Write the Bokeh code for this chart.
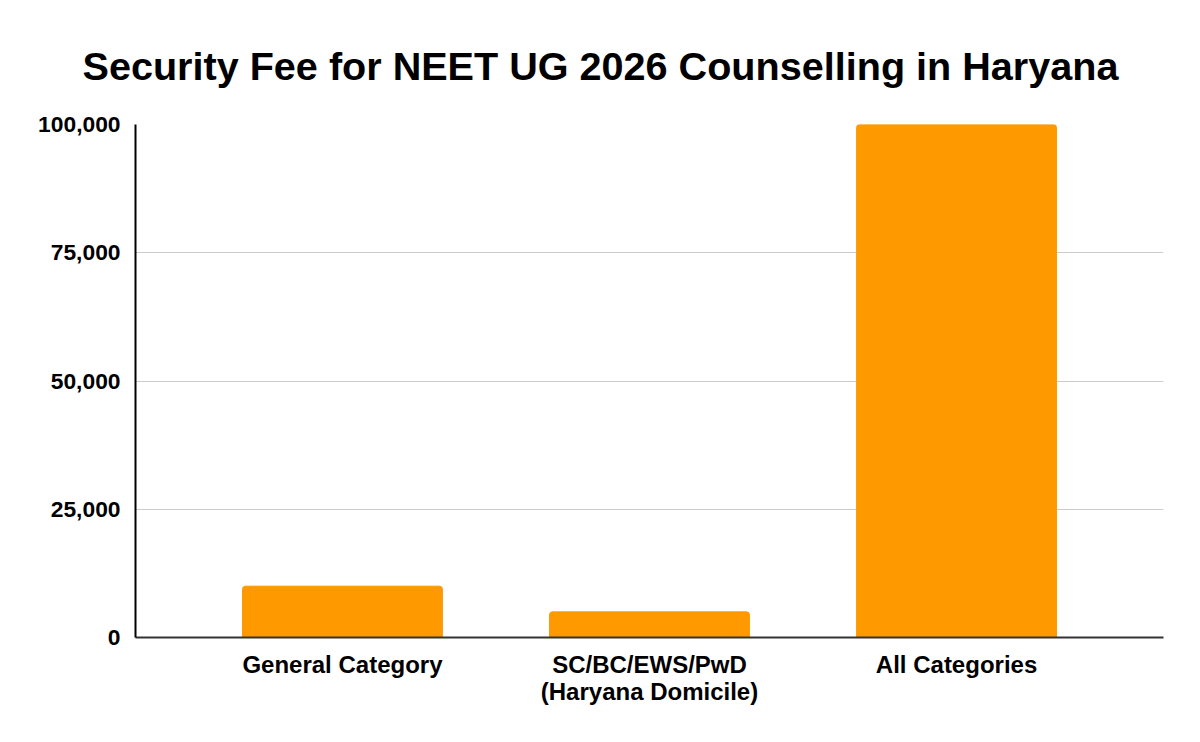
from bokeh.plotting import figure
from bokeh.models import FixedTicker, NumeralTickFormatter, ColumnDataSource
from bokeh.embed import file_html
from bokeh.resources import INLINE

categories = ["General Category", "SC/BC/EWS/PwD\n(Haryana Domicile)", "All Categories"]
fees = [10000, 5000, 100000]
y_ticks = [0, 25000, 50000, 75000, 100000]

xs = list(range(len(categories)))
src = ColumnDataSource(dict(x=xs, top=fees))

p = figure(width=1200, height=742, output_backend="svg", toolbar_location=None,
           x_range=(-0.674, 2.674), y_range=(0, 100000),
           min_border_left=135, min_border_right=37, min_border_top=124, min_border_bottom=105)

p.title.text = "Security Fee for NEET UG 2026 Counselling in Haryana"
p.title.text_font = "Liberation Sans"
p.title.text_font_size = "39.6px"
p.title.text_font_style = "bold"
p.title.align = "left"
p.title.offset = -53
p.title.standoff = 74
p.title.text_color = "#000000"

p.vbar(x="x", top="top", width=0.651, source=src, color="#ff9900",
       border_radius=(3, 3, 0, 0))

p.outline_line_color = None
p.background_fill_color = "white"
p.border_fill_color = "white"

p.xgrid.visible = False
p.ygrid.ticker = FixedTicker(ticks=y_ticks)
p.ygrid.grid_line_color = "#cccccc"
p.ygrid.grid_line_width = 1

p.yaxis.ticker = FixedTicker(ticks=y_ticks)
p.yaxis.formatter = NumeralTickFormatter(format="0,0")
p.yaxis.axis_line_color = "#000000"
p.yaxis.axis_line_width = 2
p.yaxis.major_tick_line_color = None
p.yaxis.minor_tick_line_color = None
p.yaxis.major_label_standoff = 9
p.yaxis.major_label_text_font = "Liberation Sans"
p.yaxis.major_label_text_font_size = "22.8px"
p.yaxis.major_label_text_font_style = "bold"
p.yaxis.major_label_text_color = "#000000"

p.xaxis.ticker = FixedTicker(ticks=xs)
p.xaxis.major_label_overrides = {i: c for i, c in zip(xs, categories)}
p.xaxis.axis_line_color = "#333333"
p.xaxis.axis_line_width = 2
p.xaxis.major_tick_line_color = None
p.xaxis.minor_tick_line_color = None
p.xaxis.major_label_standoff = 7
p.xaxis.major_label_text_font = "Liberation Sans"
p.xaxis.major_label_text_font_size = "24px"
p.xaxis.major_label_text_font_style = "bold"
p.xaxis.major_label_text_color = "#000000"
p.xaxis.major_label_text_line_height = 1.0

open("out.html", "w").write(file_html(p, INLINE))
